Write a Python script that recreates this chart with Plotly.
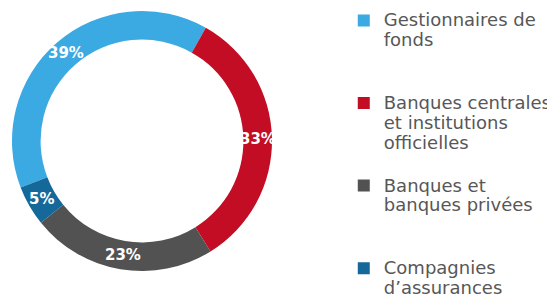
import math
import plotly.graph_objects as go

labels = ["Gestionnaires de<br>fonds",
          "Banques centrales<br>et institutions<br>officielles",
          "Banques et<br>banques privées",
          "Compagnies<br>d’assurances"]
values = [39, 33, 23, 5]
colors = ["#3BA9E2", "#C30D24", "#525252", "#15699A"]

W, H = 555, 295
OFF = 8            # page body margin offset
ROT = 249          # start angle of first slice (clockwise from 12 o'clock)
HOLE = 0.78
CX, CY, R = 142 - OFF, 141 - OFF, 130   # pie centre / radius in figure px (layout)

# legend entries: enlarge glyphs, pad to equal line counts
nlines = [l.count("<br>") + 1 for l in labels]
SPAN = '<span style="font-size:18px">'
leg_text = [SPAN + l.replace("<br>", "</span><br>" + SPAN) + "</span>" for l in labels]
maxl = 4
leg_text = [t + "<br> " * (maxl - n) if i < len(leg_text) - 1 else t
            for i, (t, n) in enumerate(zip(leg_text, nlines))]

fig = go.Figure(go.Pie(
    labels=leg_text,
    values=values,
    sort=False,
    direction="clockwise",
    rotation=ROT,
    hole=HOLE,
    marker=dict(colors=colors, line=dict(width=0)),
    textinfo="none",
    hoverinfo="skip",
    domain=dict(x=[(CX - R) / W, (CX + R) / W], y=[1 - (CY + R) / H, 1 - (CY - R) / H]),
))

# percentage labels at the middle of each ring sector
total = sum(values)
cum = 0
rmid = R * (1 + HOLE) / 2
for v in values:
    ang = math.radians(ROT + (cum + v / 2) / total * 360)
    cum += v
    fig.add_annotation(
        x=(CX + rmid * math.sin(ang)) / W,
        y=1 - (CY - rmid * math.cos(ang)) / H,
        xref="paper", yref="paper", showarrow=False,
        xanchor="center", yanchor="middle",
        text=f"{v}%",
        font=dict(family="DejaVu Sans", size=15, color="white", weight=700),
    )

fig.update_layout(
    width=W, height=H,
    margin=dict(l=0, r=0, t=0, b=0, autoexpand=False),
    paper_bgcolor="white",
    legend=dict(x=0.605, y=1.0 + 4 / H, xanchor="left", yanchor="top",
                valign="top", traceorder="normal", maxheight=600,
                font=dict(family="DejaVu Sans", size=15.3, color="#575757")),
    showlegend=True,
)
fig.write_html("out.html", config={"displayModeBar": False})
